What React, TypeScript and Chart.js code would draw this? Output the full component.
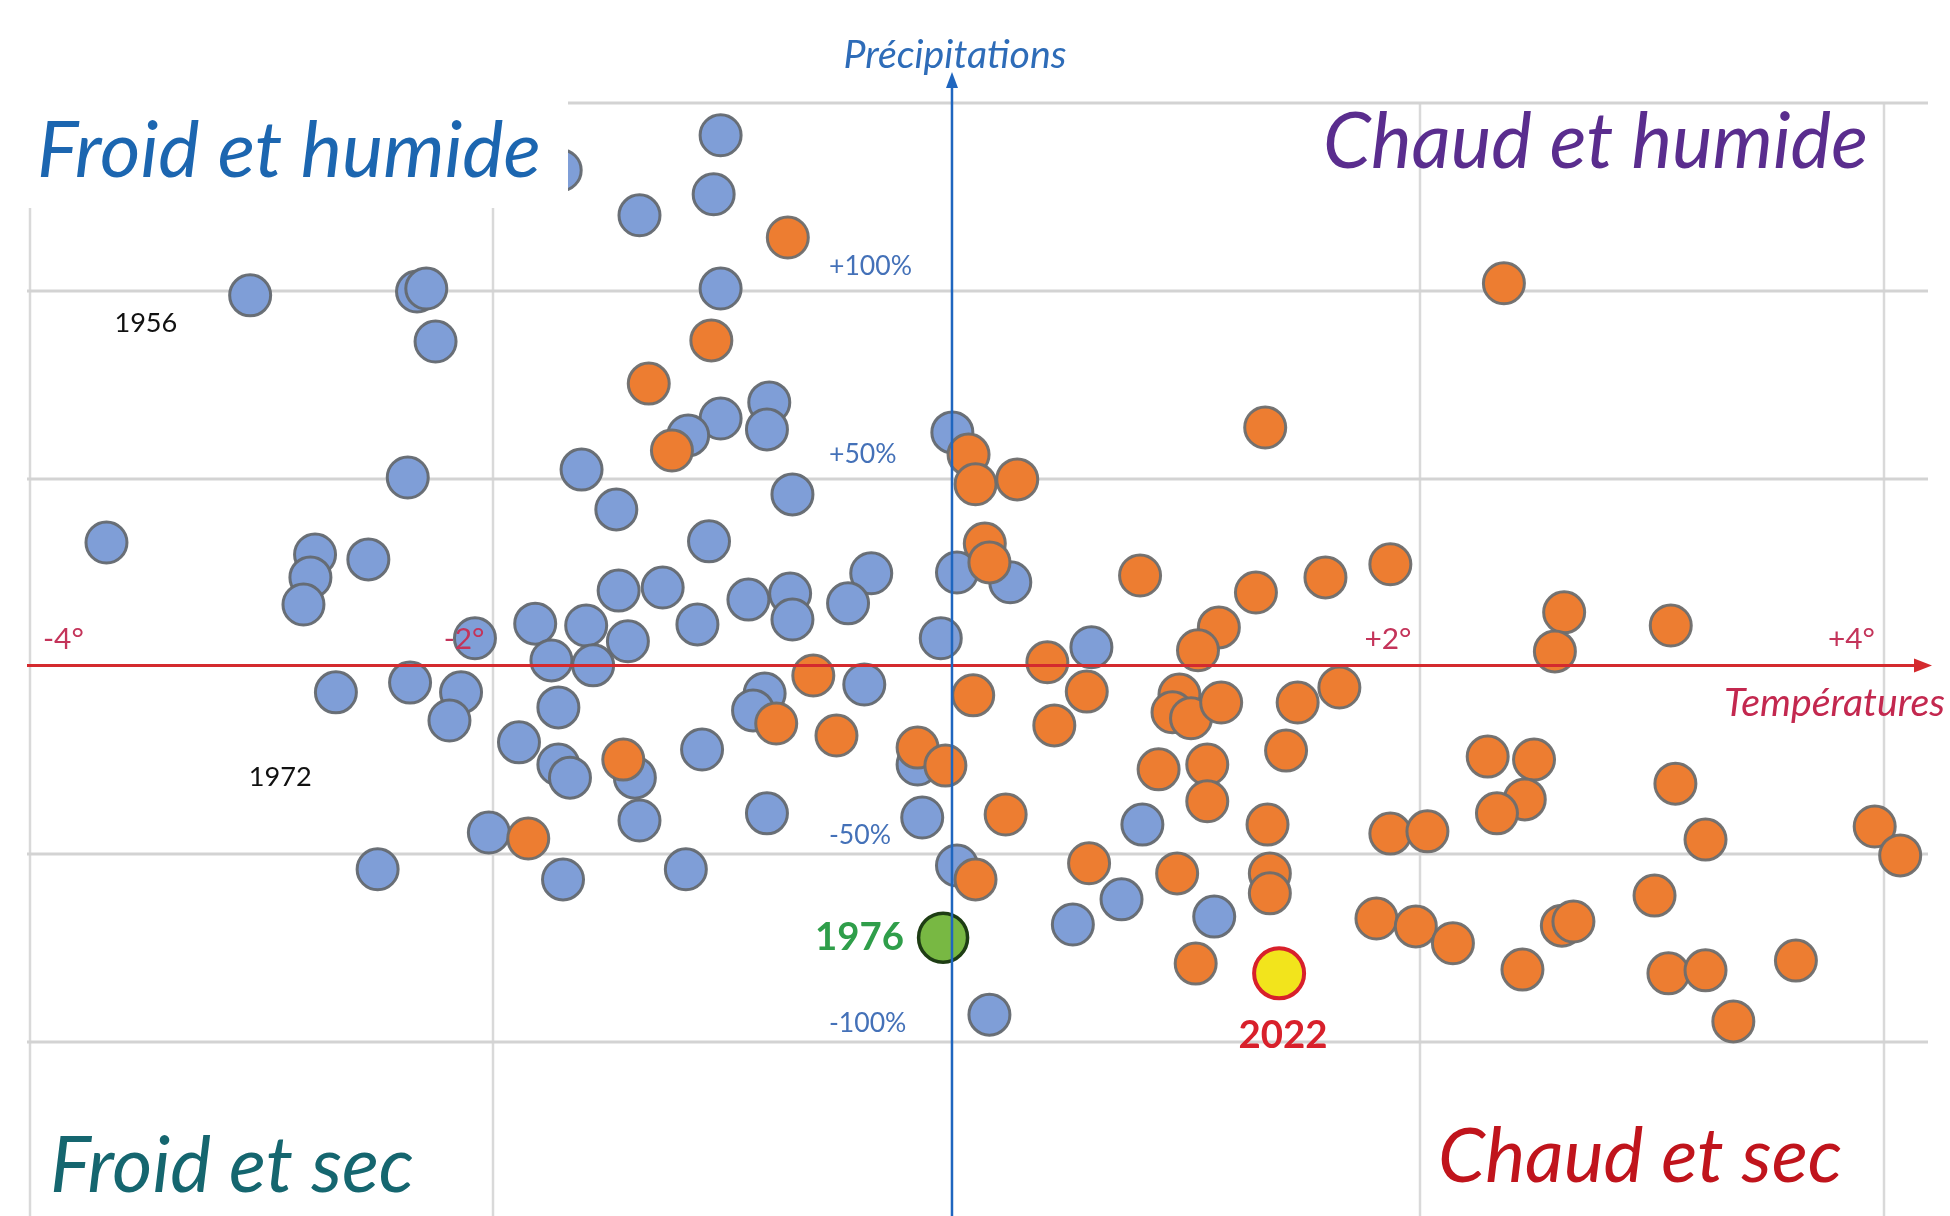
import React, { useEffect, useRef } from 'react';
import { Chart, registerables } from 'chart.js';

Chart.register(...registerables);

// ---- Data (temperature anomaly °C, precipitation anomaly %) ----
const warmTemp = [-0.73, -1.06, -1.33, -1.23, 2.36, 1.33, 0.05, 0.08, 0.26, 0.12, 0.14, 0.79, 1.59, 1.87, 1.29, 1.13, 1.04, 0.39, 2.62, 2.58, 3.08, -0.62, 0.07, 0.56, 0.42, 0.96, 0.93, 1.01, 1.14, 1.47, 1.65, -0.78, -0.52, -0.17, -0.05, -1.44, 1.42, 0.87, 1.08, 1.08, 2.29, 2.49, 2.45, 2.33, 3.10, 0.21, 1.34, 1.87, 2.03, 3.23, 3.96, 4.07, -1.85, 0.08, 0.57, 0.95, 1.35, 1.35, 3.01, 1.81, 1.98, 2.14, 2.61, 2.66, 1.03, 2.44, 3.07, 3.23, 3.62, 3.35];
const warmPrecip = [114.2, 86.8, 75.3, 57.5, 102.0, 63.6, 56.4, 48.5, 49.8, 32.7, 27.7, 24.2, 23.7, 27.2, 19.7, 10.4, 4.3, 1.1, 14.4, 4.0, 10.9, -2.4, -7.7, -6.7, -15.7, -7.5, -12.2, -13.8, -9.6, -9.6, -5.6, -15.2, -18.4, -21.6, -26.4, -24.8, -22.4, -27.4, -26.1, -35.9, -24.0, -24.8, -35.4, -39.1, -31.2, -39.4, -42.1, -44.5, -43.9, -46.1, -42.6, -50.3, -45.8, -56.7, -52.4, -55.1, -55.1, -60.4, -61.0, -67.1, -69.2, -73.7, -69.0, -67.9, -79.1, -80.7, -81.7, -80.9, -78.3, -94.5];

const coldTemp = [-1.02, -1.71, -1.05, -1.37, -3.05, -2.33, -2.29, -1.02, -2.25, -0.81, -0.82, -1.02, -1.16, -0.02, -2.37, -1.62, -1.47, -0.71, -3.67, -1.07, -2.77, -2.79, -2.82, -2.54, -0.37, 0.00, 0.23, -1.46, -1.27, -0.90, -0.72, -0.71, -0.47, -1.82, -1.60, -1.12, -1.42, -2.08, -0.07, 0.58, -1.75, -1.57, -2.68, -2.36, -2.14, -2.19, -0.40, -0.83, -0.88, -1.72, -1.89, -1.10, -1.72, -1.67, -1.39, -0.17, -1.37, -0.82, -0.15, 0.80, -2.02, -2.50, -1.70, -1.17, 0.00, 0.71, 0.50, 1.11, 0.14];
const coldPrecip = [141.4, 132.1, 125.7, 120.1, 98.8, 99.8, 100.6, 100.6, 86.5, 70.3, 63.1, 66.0, 61.5, 62.3, 50.3, 52.4, 41.8, 45.8, 33.0, 33.3, 29.8, 23.7, 16.5, 28.5, 24.8, 25.0, 22.4, 20.2, 21.0, 17.8, 19.4, 12.5, 16.8, 11.4, 10.9, 11.2, 6.7, 7.5, 7.5, 5.1, 1.6, 0.3, -6.9, -4.3, -6.9, -14.4, -4.8, -7.2, -11.7, -10.9, -20.2, -22.1, -26.1, -29.6, -29.6, -26.1, -41.0, -39.1, -40.2, -42.1, -44.2, -54.0, -56.7, -54.0, -53.0, -62.0, -68.7, -66.6, -92.7];

const year1976 = [-0.06, -72.2];
const year2022 = [1.39, -81.7];

const gridTemp = [-4, -2, 2, 4];
const gridPrecip = [150, 100, 50, -50, -100];

const xTickValues = [-4, -2, 2, 4];
const xTickLabels = ['-4°', '-2°', '+2°', '+4°'];
const yTickValues = [100, 50, -50, -100];
const yTickLabels = ['+100%', '+50%', '-50%', '-100%'];

const yearNotes = ['1956', '1972'];
const yearNoteTemp = [-3.50, -2.92];
const yearNotePrecip = [91.3, -29.6];

const FONT = 'Lato, "Open Sans", sans-serif';

function fit(ctx: CanvasRenderingContext2D, text: string, prefix: string, target: number): number {
  ctx.font = `${prefix} 100px ${FONT}`;
  const w = ctx.measureText(text).width;
  return (100 * target) / w;
}

const overlay = {
  id: 'overlay',
  beforeDatasetsDraw(chart: any) {
    const { ctx, scales, chartArea } = chart;
    const x = scales.x;
    const y = scales.y;
    const axisX = x.getPixelForValue(0) - 5;
    ctx.save();

    // grid lines
    ctx.strokeStyle = '#d9d9d9';
    ctx.lineWidth = 2.5;
    gridTemp.forEach((v) => {
      const px = Math.round(x.getPixelForValue(v));
      ctx.beginPath();
      ctx.moveTo(px, chartArea.top);
      ctx.lineTo(px, chartArea.bottom);
      ctx.stroke();
    });
    ctx.strokeStyle = '#d3d3d3';
    ctx.lineWidth = 3;
    gridPrecip.forEach((v) => {
      const py = Math.round(y.getPixelForValue(v));
      ctx.beginPath();
      ctx.moveTo(chartArea.left - 3, py);
      ctx.lineTo(chartArea.right, py);
      ctx.stroke();
    });

    ctx.textBaseline = 'middle';
    // y tick labels
    const ys = fit(ctx, '+100%', '', 83);
    ctx.font = `${ys}px ${FONT}`;
    ctx.fillStyle = '#4471b8';
    ctx.textAlign = 'left';
    yTickValues.forEach((v, i) => {
      const off = v > 0 ? 24 : 19;
      ctx.fillText(yTickLabels[i], axisX - 123, y.getPixelForValue(v) - off);
    });
    // year notes
    const ns = fit(ctx, '1956', '', 63);
    ctx.font = `${ns}px ${FONT}`;
    ctx.fillStyle = '#111111';
    ctx.textAlign = 'center';
    yearNotes.forEach((t, i) => {
      ctx.fillText(t, x.getPixelForValue(yearNoteTemp[i]), y.getPixelForValue(yearNotePrecip[i]));
    });
    ctx.restore();
  },
  afterDatasetsDraw(chart: any) {
    const { ctx, scales, width, height } = chart;
    const x = scales.x;
    const y = scales.y;
    const y0 = y.getPixelForValue(0) - 1;
    const axisX = x.getPixelForValue(0) - 5;
    ctx.save();

    // red temperature axis
    ctx.strokeStyle = '#d42a2e';
    ctx.fillStyle = '#d42a2e';
    ctx.lineWidth = 3;
    ctx.beginPath();
    ctx.moveTo(27, y0);
    ctx.lineTo(width - 34, y0);
    ctx.stroke();
    ctx.beginPath();
    ctx.moveTo(width - 18, y0);
    ctx.lineTo(width - 36, y0 - 7);
    ctx.lineTo(width - 36, y0 + 7);
    ctx.closePath();
    ctx.fill();

    // x tick labels (drawn over the points)
    ctx.textBaseline = 'middle';
    const xs = fit(ctx, '+2°', '', 47);
    ctx.font = `${xs}px ${FONT}`;
    ctx.fillStyle = '#c4345a';
    xTickValues.forEach((v, i) => {
      const px = x.getPixelForValue(v);
      if (i === 0) {
        ctx.textAlign = 'left';
        ctx.fillText(xTickLabels[i], px + 13, y0 - 26);
      } else {
        ctx.textAlign = 'right';
        ctx.fillText(xTickLabels[i], px - 9, y0 - 26);
      }
    });

    // blue precipitation axis
    ctx.strokeStyle = '#1f66bf';
    ctx.fillStyle = '#1f66bf';
    ctx.lineWidth = 2.5;
    ctx.beginPath();
    ctx.moveTo(axisX, height);
    ctx.lineTo(axisX, 86);
    ctx.stroke();
    ctx.beginPath();
    ctx.moveTo(axisX, 72);
    ctx.lineTo(axisX - 6, 88);
    ctx.lineTo(axisX + 6, 88);
    ctx.closePath();
    ctx.fill();

    // white box behind top-left title
    ctx.fillStyle = '#ffffff';
    ctx.fillRect(0, 0, 568, 208);

    // axis titles
    let s = fit(ctx, 'Précipitations', 'italic', 223);
    ctx.font = `italic ${s}px ${FONT}`;
    ctx.fillStyle = '#2e6cb8';
    ctx.textAlign = 'center';
    ctx.fillText('Précipitations', axisX + 3, 55);

    s = fit(ctx, 'Températures', 'italic', 221);
    ctx.font = `italic ${s}px ${FONT}`;
    ctx.fillStyle = '#c3284f';
    ctx.textAlign = 'right';
    ctx.fillText('Températures', 1945, y0 + 38);

    // highlighted years
    const bs = fit(ctx, '1976', 'bold', 89);
    ctx.font = `bold ${bs}px ${FONT}`;
    ctx.fillStyle = '#2f9e4a';
    ctx.textAlign = 'right';
    ctx.fillText('1976', x.getPixelForValue(year1976[0]) - 39, y.getPixelForValue(year1976[1]));
    ctx.fillStyle = '#d8202b';
    ctx.textAlign = 'center';
    ctx.fillText('2022', x.getPixelForValue(year2022[0]) + 4, y.getPixelForValue(year2022[1]) + 62);

    // quadrant titles
    ctx.textBaseline = 'alphabetic';
    ctx.textAlign = 'left';
    const quads: [string, string, number, number, number][] = [
      ['Froid et humide', '#1c66b0', 37, 177, 504],
      ['Chaud et humide', '#5a2d8e', 1323, 168, 545],
      ['Froid et sec', '#15666f', 50, 1192, 364],
      ['Chaud et sec', '#c0141c', 1438, 1182, 404],
    ];
    quads.forEach(([t, c, lx, by, w]) => {
      const fs = fit(ctx, t, 'italic', w);
      ctx.font = `italic ${fs}px ${FONT}`;
      ctx.fillStyle = c;
      ctx.fillText(t, lx, by);
    });
    ctx.restore();
  },
};

export default function App() {
  const ref = useRef<HTMLCanvasElement | null>(null);
  useEffect(() => {
    if (!ref.current) return;
    const toPts = (xs: number[], ys: number[]) => xs.map((v, i) => ({ x: v, y: ys[i] }));
    const chart = new Chart(ref.current, {
      type: 'scatter',
      data: {
        datasets: [
          {
            label: 'Chaud',
            data: toPts(warmTemp, warmPrecip),
            backgroundColor: '#ed7d31',
            borderColor: 'rgba(110,110,110,0.95)',
            borderWidth: 3,
            pointRadius: 20.5,
            pointHoverRadius: 20.5,
          },
          {
            label: 'Froid',
            data: toPts(coldTemp, coldPrecip),
            backgroundColor: '#7f9ed7',
            borderColor: 'rgba(100,105,112,0.95)',
            borderWidth: 3,
            pointRadius: 20.5,
            pointHoverRadius: 20.5,
          },
          {
            label: '1976',
            data: [{ x: year1976[0], y: year1976[1] }],
            backgroundColor: '#78b843',
            borderColor: '#1e3d14',
            borderWidth: 3.5,
            pointRadius: 24.5,
            pointHoverRadius: 24.5,
          },
          {
            label: '2022',
            data: [{ x: year2022[0], y: year2022[1] }],
            backgroundColor: '#f2e41c',
            borderColor: '#d8202b',
            borderWidth: 4,
            pointRadius: 25,
            pointHoverRadius: 25,
          },
        ],
      },
      options: {
        responsive: false,
        animation: false,
        devicePixelRatio: 1,
        layout: { autoPadding: false, padding: { left: 30, right: 22, top: 103, bottom: 0 } },
        plugins: { legend: { display: false }, tooltip: { enabled: false } },
        scales: {
          x: { type: 'linear', display: false, min: -4, max: 4.19 },
          y: { type: 'linear', display: false, min: -146.3, max: 150 },
        },
      },
      plugins: [overlay],
    } as any);
    return () => chart.destroy();
  }, []);
  return (
    <div style={{ position: 'absolute', left: 0, top: 0, width: 1950, height: 1216, background: '#ffffff' }}>
      <canvas ref={ref} width={1950} height={1216} style={{ display: 'block' }} />
    </div>
  );
}
